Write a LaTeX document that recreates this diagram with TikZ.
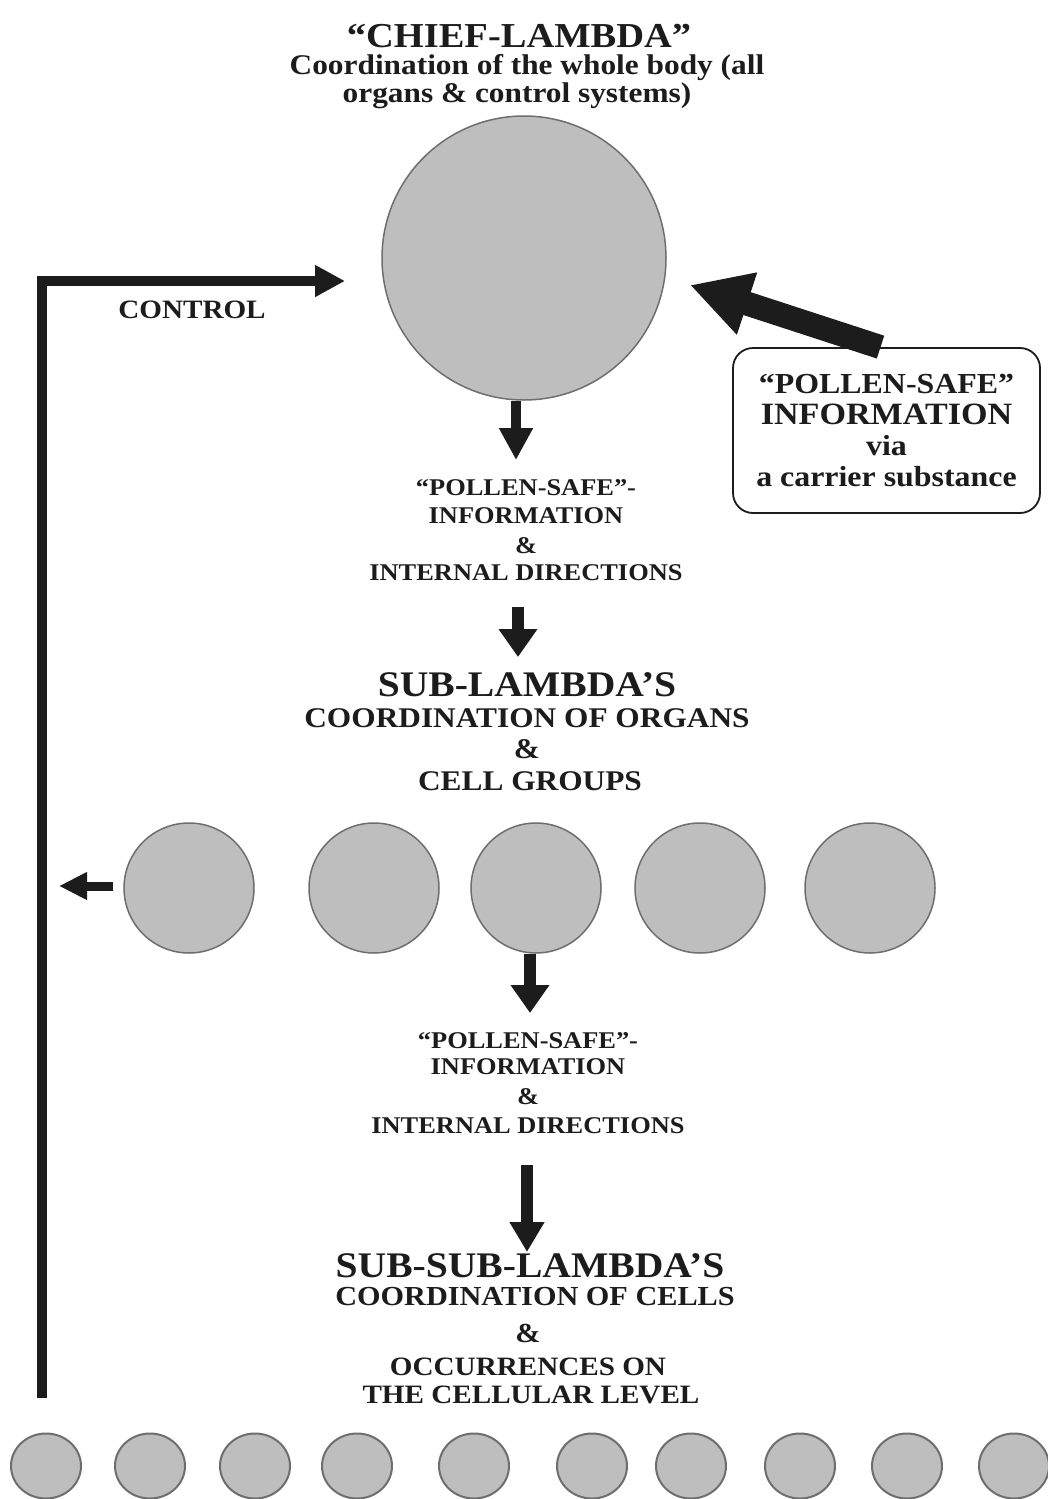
\documentclass[tikz,border=0pt]{standalone}
\usepackage{fontspec}
\setmainfont{Liberation Serif}[FakeStretch=1.1]
\usetikzlibrary{arrows.meta,shapes.geometric}
\definecolor{ink}{RGB}{28,28,28}
\definecolor{cfill}{RGB}{190,190,190}
\definecolor{cline}{RGB}{110,110,110}
\begin{document}
\begin{tikzpicture}[x=1pt,y=-1pt,
  lbl/.style={anchor=base,inner sep=0pt,text=ink,font=\fontsize{#1pt}{#1pt}\selectfont\bfseries},
  cell/.style={circle,draw=cline,fill=cfill,line width=1.5pt,inner sep=0pt},
  smallcell/.style={ellipse,draw=cline,fill=cfill,line width=2pt,inner sep=0pt,minimum width=70pt,minimum height=65pt},
  fatarrow/.style={draw=ink,line width=#1},
  infobox/.style={draw=ink,line width=1.8pt,rounded corners=20pt,fill=white,inner sep=0pt,
     minimum width=307pt,minimum height=165pt,align=center,text=ink,
     font=\fontsize{29pt}{31pt}\selectfont\bfseries}
]
\useasboundingbox[fill=white] (0,0) rectangle (1048,1499);

% titles
\node[lbl=35] (title) at (519,47) {“CHIEF-LAMBDA”};
\node[lbl=28.5] (sub1) at (527,74) {Coordination of the whole body (all};
\node[lbl=28.5] (sub2) at (517,102) {organs \& control systems)};

% big circle
\node[cell,minimum size=284pt] (big) at (524,258) {};

% control loop
\coordinate (ctrlbot) at (42,1398);
\coordinate (ctrltip) at (345,281);
\draw[fatarrow=10pt,line join=miter,-{Triangle[width=30pt,length=30pt]}] (ctrlbot) |- (ctrltip);
\node[lbl=26.5] (control) at (192,318) {CONTROL};

% info box and big arrow
\node[infobox] (box) at (886.5,430.5) {“POLLEN-SAFE”\\{\fontsize{31pt}{31pt}\selectfont INFORMATION}\\via\\a carrier substance};
\coordinate (bigtip) at (690,285);
\draw[fatarrow=24pt,-{Triangle[width=61pt,length=60pt]}] ([xshift=-6pt]box.north) -- (bigtip);

% arrow 1 and block 1
\coordinate (a1tip) at (516,460);
\draw[fatarrow=10pt,-{Triangle[width=32pt,length=32pt]}] (big.south -| a1tip) -- (a1tip);
\node[lbl=24] (b1a) at (526,495) {“POLLEN-SAFE”-};
\node[lbl=24] (b1b) at (526,523) {INFORMATION};
\node[lbl=24] (b1c) at (526,553) {\&};
\node[lbl=24] (b1d) at (526,580) {INTERNAL DIRECTIONS};

% arrow 2
\coordinate (a2top) at (518,607);
\coordinate (a2tip) at (518,657);
\draw[fatarrow=12pt,-{Triangle[width=37pt,length=28pt]}] (a2top) -- (a2tip);

% sub-lambda block
\node[lbl=36] (sl1) at (527,696) {SUB-LAMBDA’S};
\node[lbl=28.5] (sl2) at (527,727) {COORDINATION OF ORGANS};
\node[lbl=28.5] (sl3) at (527,758) {\&};
\node[lbl=28.5] (sl4) at (530,790) {CELL GROUPS};

% row of five circles
\node[cell,minimum size=130pt] (c1) at (189,888) {};
\node[cell,minimum size=130pt] (c2) at (374,888) {};
\node[cell,minimum size=130pt] (c3) at (536,888) {};
\node[cell,minimum size=130pt] (c4) at (700,888) {};
\node[cell,minimum size=130pt] (c5) at (870,888) {};

% small left arrow
\coordinate (latip) at (59,886);
\draw[fatarrow=9pt,-{Triangle[width=26pt,length=28pt]}] ([xshift=-10pt]c1.west |- latip) -- (latip);

% arrow 3 and block 2
\coordinate (a3tip) at (530,1013);
\draw[fatarrow=12pt,-{Triangle[width=37pt,length=28pt]}] (c3.south -| a3tip) -- (a3tip);
\node[lbl=24] (b2a) at (528,1048) {“POLLEN-SAFE”-};
\node[lbl=24] (b2b) at (528,1074) {INFORMATION};
\node[lbl=24] (b2c) at (528,1104) {\&};
\node[lbl=24] (b2d) at (528,1133) {INTERNAL DIRECTIONS};

% arrow 4
\coordinate (a4top) at (527,1165);
\coordinate (a4tip) at (527,1252);
\draw[fatarrow=12pt,-{Triangle[width=33pt,length=30pt]}] (a4top) -- (a4tip);

% sub-sub-lambda block
\node[lbl=36] (ss1) at (530,1277) {SUB-SUB-LAMBDA’S};
\node[lbl=27.5] (ss2) at (535,1305) {COORDINATION OF CELLS};
\node[lbl=27.5] (ss3) at (528,1342) {\&};
\node[lbl=26.5] (ss4) at (528,1375) {OCCURRENCES ON};
\node[lbl=26.5] (ss5) at (531,1403) {THE CELLULAR LEVEL};

% bottom row of cells
\foreach \i/\x in {1/46,2/150,3/255,4/357,5/474,6/592,7/691,8/800,9/907,10/1014}{
  \node[smallcell] (d\i) at (\x,1466) {};
}
\end{tikzpicture}
\end{document}
